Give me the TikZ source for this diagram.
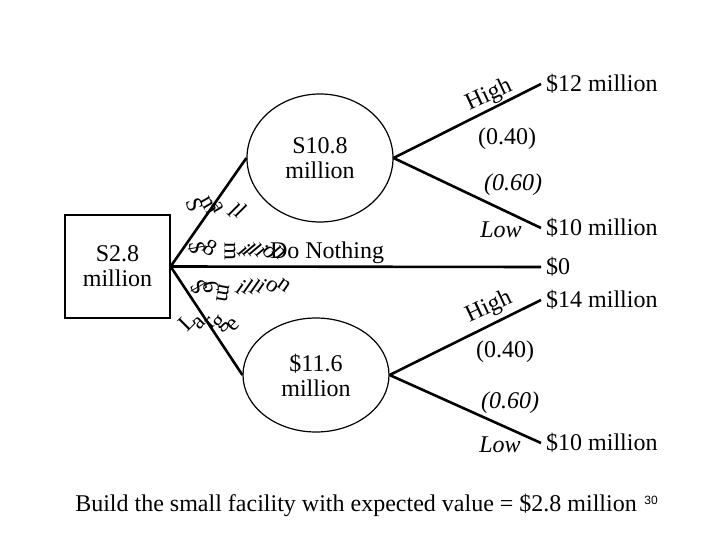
\documentclass[tikz,border=0pt]{standalone}
\usepackage{fontspec}
\setmainfont{Liberation Serif}
\setsansfont{Liberation Sans}
\usetikzlibrary{shapes.geometric}

\newcommand{\treefont}{\fontsize{24}{25}\selectfont}

\begin{document}
\begin{tikzpicture}[
  x=1pt, y=-1pt,
  decision/.style={draw, line width=1.2pt, minimum width=105pt,
              minimum height=103pt, align=center, font=\treefont},
  chance/.style={draw, ellipse, line width=1.2pt, inner sep=0pt,
              align=center, font=\treefont},
  branch/.style={line width=2.6pt},
  payoff/.style={anchor=west, inner xsep=5pt, font=\treefont},
  prob/.style={font=\treefont},
  glyph/.style={inner sep=0pt, font=\fontsize{23}{23}\selectfont}
]
\useasboundingbox (0,0) rectangle (720,540);

% decision and chance nodes
\node[decision] (root) at (117.5,266.5) {S2.8\\million};
\node[chance, minimum width=146pt, minimum height=128pt] (small) at (320,158) {S10.8\\million};
\node[chance, minimum width=146pt, minimum height=114pt] (large) at (316,375) {\$11.6\\million};

% payoffs
\node[payoff] (o12)  at (541,84)  {\$12 million};
\node[payoff] (o10a) at (541,228) {\$10 million};
\node[payoff] (v0)   at (541,267) {\$0};
\node[payoff] (o14)  at (541,300) {\$14 million};
\node[payoff] (o10b) at (541,443) {\$10 million};

% branches
\draw[branch] (root.east) -- (small.west);
\draw[branch] (root.east) -- (v0.west);
\draw[branch] (root.east) -- (large.west);
\draw[branch] (small.east) -- (o12.west);
\draw[branch] (small.east) -- (o10a.west);
\draw[branch] (large.east) -- (o14.west);
\draw[branch] (large.east) -- (o10b.west);

% outcome labels
\node[prob, rotate=25] (hi1)  at (489,95)  {High};
\node[prob]            (p40a) at (507,139) {(0.40)};
\node[prob]            (p60a) at (513,185) {\itshape(0.60)};
\node[prob]            (lo1)  at (501,230) {\itshape Low};
\node[prob, rotate=25] (hi2)  at (489,307) {High};
\node[prob]            (p40b) at (505,352) {(0.40)};
\node[prob]            (p60b) at (510,403) {\itshape(0.60)};
\node[prob]            (lo2)  at (500,445) {\itshape Low};

\node[prob] (nothing) at (327,253) {Do Nothing};

% scrambled branch labels
\foreach \ch/\x/\y/\r [count=\i] in {S/195/205/-70, m/209/206/-60, a/218/207/-60,
    l/234/210/-45, l/241/211/-45}
  \node[glyph, rotate=\r] (sm\i) at (\x,\y) {\ch};
\foreach \ch/\x/\y/\r [count=\i] in {\$/197/248/-80, 8/210/248/-30, m/230/251/-90,
    i/244/250/-50, l/250/250/-50, l/256/250/-50, i/262/251/-50, o/269/252/-50, n/279/252/-50}
  \node[glyph, rotate=\r] (cs\i) at (\x,\y) {\ch};
\foreach \ch/\x/\y/\r [count=\i] in {\$/199/287/120, 9/211/287/100, m/223/293/-100,
    i/241/287/-35, l/248/287/-35, l/255/287/-35, i/262/286/-35, o/272/286/-35, n/284/285/-35}
  \node[glyph, rotate=\r] (cl\i) at (\x,\y) {\ch};
\foreach \ch/\x/\y/\r [count=\i] in {L/187/322/45, a/199/323/45, r/210/323/45,
    g/221/324/45, e/233/325/45}
  \node[glyph, rotate=\r] (lg\i) at (\x,\y) {\ch};

% caption
\node[font=\fontsize{24}{26}\selectfont] (caption) at (356,505)
  {Build the small facility with expected value = \$2.8 million};
\node[font=\sffamily\fontsize{12}{13}\selectfont] (page) at (651,500) {30};
\end{tikzpicture}
\end{document}
